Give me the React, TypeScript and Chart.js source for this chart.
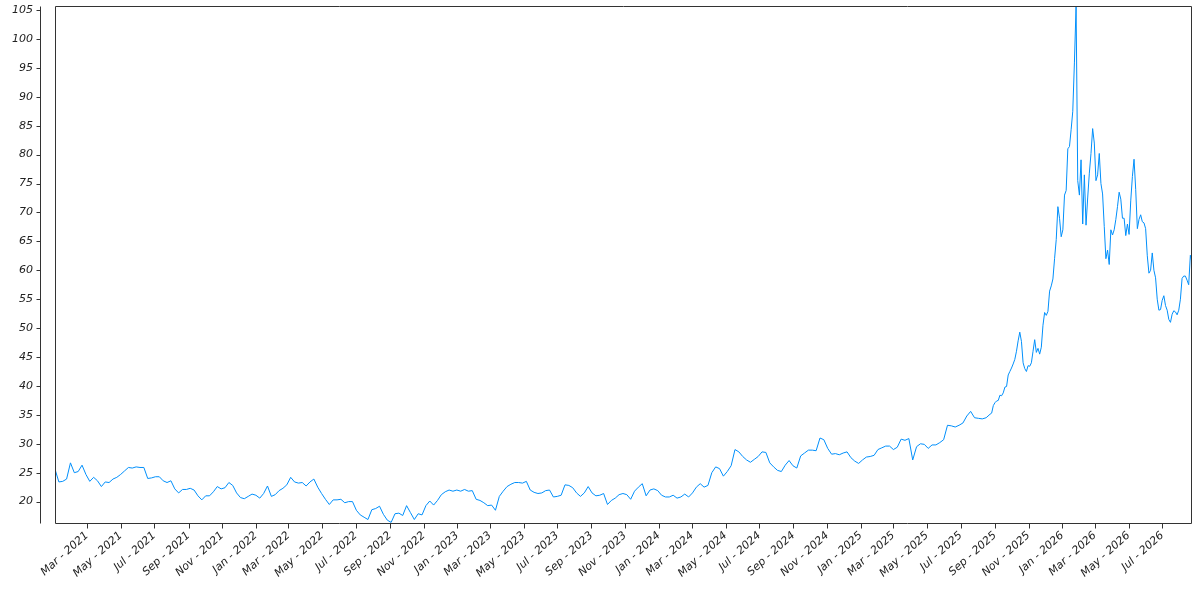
import React, { useEffect, useRef } from "react";
import { Chart, registerables } from "chart.js";

Chart.register(...registerables);

// ---------------- data ----------------
const DAY_MS = 86400000;

// weekly readings, starting 2021-01-02
const weeklyStart = "2021-01-02";
const weeklyStepDays = 7;
const weeklyValues = [
  25.6, 23.4, 23.5, 23.9, 26.7, 25.0, 25.2, 26.3, 24.7, 23.5,
  24.2, 23.6, 22.6, 23.4, 23.3, 23.9, 24.2, 24.7, 25.3, 25.9,
  25.8, 26.0, 25.9, 25.9, 24.0, 24.1, 24.3, 24.3, 23.6, 23.3,
  23.6, 22.2, 21.5, 22.1, 22.1, 22.3, 22.0, 21.0, 20.3, 21.0,
  21.0, 21.7, 22.6, 22.2, 22.4, 23.3, 22.8, 21.5, 20.7, 20.5,
  20.9, 21.3, 21.1, 20.6, 21.4, 22.7, 20.9, 21.2, 21.9, 22.3,
  22.9, 24.2, 23.4, 23.2, 23.3, 22.7, 23.4, 23.9, 22.5, 21.4,
  20.4, 19.5, 20.3, 20.3, 20.4, 19.8, 20.0, 20.0, 18.5, 17.7,
  17.3, 16.9, 18.6, 18.8, 19.2, 17.8, 16.8, 16.4, 17.9, 18.0,
  17.6, 19.3, 18.1, 16.9, 17.9, 17.7, 19.3, 20.1, 19.4, 20.2,
  21.2, 21.7, 22.0, 21.8, 22.0, 21.8, 22.1, 21.8, 21.9, 20.4,
  20.2, 19.8, 19.3, 19.4, 18.5, 20.9, 21.8, 22.6, 23.0, 23.3,
  23.3, 23.2, 23.5, 22.0, 21.6, 21.4, 21.5, 21.9, 22.0, 20.8,
  20.9, 21.1, 22.9, 22.8, 22.4, 21.5, 20.9, 21.5, 22.6, 21.5,
  21.0, 21.1, 21.4, 19.5, 20.2, 20.6, 21.2, 21.4, 21.2, 20.4,
  21.8, 22.5, 23.1, 21.0, 22.0, 22.2, 21.9, 21.1, 20.8, 20.8,
  21.1, 20.6, 20.8, 21.3, 20.8, 21.5, 22.5, 23.1, 22.5, 22.8,
  25.0, 26.0, 25.7, 24.4, 25.2, 26.2, 29.0, 28.6, 27.8, 27.2,
  26.8, 27.3, 27.8, 28.6, 28.5, 26.7, 26.0, 25.4, 25.2, 26.3,
  27.1, 26.2, 25.8, 27.9, 28.4, 28.9, 28.9, 28.8, 31.0, 30.7,
  29.2, 28.2, 28.3, 28.1, 28.4, 28.6, 27.6, 27.0, 26.6, 27.2,
  27.7, 27.8, 28.0, 29.0, 29.3, 29.6, 29.6, 29.0, 29.4, 30.8,
  30.6, 30.9, 27.2, 29.5, 30.0, 29.9, 29.2, 29.8, 29.8, 30.2,
  30.7, 33.2, 33.1, 32.9, 33.2, 33.6, 34.8, 35.6, 34.5, 34.4,
  34.3, 34.5,
];

// denser readings (every 3 days) from 2025-08-23
const tailStart = "2025-08-23";
const tailStepDays = 3;
const tailValues = [
  35.1, 35.3, 36.6, 37.1, 37.4, 37.5, 38.4, 38.3, 38.8, 39.8,
  39.9, 41.9, 42.5, 43.1, 43.8, 44.6, 46.0, 47.8, 49.3, 47.7,
  44.0, 43.0, 42.5, 43.5, 43.4, 44.0, 46.0, 48.0, 45.8, 46.5,
  45.5, 46.7, 50.5, 52.7, 52.2, 52.9, 56.4, 57.3, 58.5, 62.0,
  65.3, 71.0, 69.0, 65.8, 67.0, 73.0, 73.8, 81.0, 81.4, 84.3,
  87.5, 96.0, 105.7, 75.5, 73.0, 79.1, 68.0, 76.5, 67.8, 72.5,
  76.8, 80.2, 84.5, 82.0, 75.5, 76.5, 80.2, 75.0, 73.2, 67.6,
  62.0, 63.5, 61.0, 67.0, 66.1, 67.0, 68.8, 71.0, 73.5, 72.3,
  69.0, 69.0, 66.0, 68.0, 66.2, 72.0, 76.2, 79.2, 74.0, 67.2,
  68.8, 69.6, 68.4, 68.2, 67.2, 62.5, 59.5, 60.0, 63.0, 60.0,
  58.7, 55.0, 53.1, 53.2, 54.8, 55.6, 53.9, 53.1, 51.5, 51.0,
  52.4, 53.0, 52.8, 52.3, 53.1, 55.0, 58.6, 59.0, 59.0, 58.3,
  57.5, 62.6, 61.3,
];

const monthNames = ["Jan", "Feb", "Mar", "Apr", "May", "Jun", "Jul", "Aug", "Sep", "Oct", "Nov", "Dec"];

const xTickMonths = [
  "2021-03", "2021-05", "2021-07", "2021-09", "2021-11",
  "2022-01", "2022-03", "2022-05", "2022-07", "2022-09", "2022-11",
  "2023-01", "2023-03", "2023-05", "2023-07", "2023-09", "2023-11",
  "2024-01", "2024-03", "2024-05", "2024-07", "2024-09", "2024-11",
  "2025-01", "2025-03", "2025-05", "2025-07", "2025-09", "2025-11",
  "2026-01", "2026-03", "2026-05", "2026-07",
];

const yTickValues = [20, 25, 30, 35, 40, 45, 50, 55, 60, 65, 70, 75, 80, 85, 90, 95, 100, 105];

// ---------------- helpers ----------------
const toUTC = (iso: string) => {
  const [y, m, d] = iso.split("-").map(Number);
  return Date.UTC(y, m - 1, d || 1);
};

const LINE_COLOR = "#008FFB";
const AXIS_COLOR = "#333333";
const TEXT_COLOR = "#222222";
const FONT = { family: "'DejaVu Sans', sans-serif", size: 11, style: "italic" as const };

export default function App() {
  const ref = useRef<HTMLCanvasElement>(null);

  useEffect(() => {
    document.body.style.margin = "0";
    const w0 = toUTC(weeklyStart);
    const t0 = toUTC(tailStart);
    const points = [
      ...weeklyValues.map((v, i) => ({ x: w0 + i * weeklyStepDays * DAY_MS, y: v })),
      ...tailValues.map((v, i) => ({ x: t0 + i * tailStepDays * DAY_MS, y: v })),
    ];
    const xMin = points[0].x;
    const xMax = points[points.length - 1].x;
    const ys = points.map((p) => p.y);
    const yMin = Math.min(...ys) - 0.1;
    const yMax = Math.max(...ys);

    const frame = {
      id: "frame",
      afterDraw(chart: any) {
        const { ctx, chartArea: ca, scales } = chart;
        ctx.save();
        ctx.strokeStyle = AXIS_COLOR;
        ctx.lineWidth = 1;
        const L = Math.round(ca.left) + 0.5;
        const R = Math.round(ca.right) - 0.5;
        const T = Math.round(ca.top) + 0.5;
        const B = Math.round(ca.bottom) + 0.5;
        ctx.beginPath();
        ctx.rect(L, T, R - L, B - T);
        ctx.stroke();
        // offset y axis
        const ax = L - 15;
        ctx.beginPath();
        ctx.moveTo(ax, T);
        ctx.lineTo(ax, B);
        for (const t of scales.y.ticks) {
          const py = Math.round(scales.y.getPixelForValue(t.value)) + 0.5;
          ctx.moveTo(ax - 4, py);
          ctx.lineTo(ax, py);
        }
        for (const t of scales.x.ticks) {
          const px = Math.round(scales.x.getPixelForValue(t.value)) + 0.5;
          ctx.moveTo(px, B);
          ctx.lineTo(px, B + 5);
        }
        ctx.stroke();
        ctx.restore();
      },
    };

    const chart = new Chart(ref.current!, {
      type: "line",
      data: {
        datasets: [
          {
            data: points,
            borderColor: LINE_COLOR,
            borderWidth: 1,
            pointRadius: 0,
            fill: false,
            tension: 0,
          },
        ],
      },
      options: {
        animation: false,
        responsive: false,
        maintainAspectRatio: false,
        parsing: false as any,
        layout: { padding: { top: 6, right: 8, left: 0, bottom: 0 } },
        plugins: { legend: { display: false }, tooltip: { enabled: false } },
        scales: {
          x: {
            type: "linear",
            min: xMin,
            max: xMax,
            grid: { display: false, drawTicks: false },
            border: { display: false },
            afterBuildTicks: (s: any) => {
              s.ticks = xTickMonths.map((m) => ({ value: toUTC(m) }));
            },
            afterFit: (s: any) => {
              s.height = 77;
              s.paddingLeft = 0;
              s.paddingRight = 0;
            },
            ticks: {
              autoSkip: false,
              minRotation: 42,
              maxRotation: 42,
              padding: 6,
              color: TEXT_COLOR,
              font: FONT,
              callback: (v: any) => {
                const d = new Date(Number(v));
                return `${monthNames[d.getUTCMonth()]} - ${d.getUTCFullYear()}`;
              },
            },
          },
          y: {
            type: "linear",
            min: yMin,
            max: yMax,
            grid: { display: false, drawTicks: false },
            border: { display: false },
            afterBuildTicks: (s: any) => {
              s.ticks = yTickValues.map((v) => ({ value: v }));
            },
            afterFit: (s: any) => {
              s.width = 55;
              s.paddingTop = 0;
              s.paddingBottom = 0;
            },
            ticks: {
              padding: 22,
              color: TEXT_COLOR,
              font: FONT,
              callback: (v: any) => String(v),
            },
          },
        },
      },
      plugins: [frame],
    } as any);

    return () => chart.destroy();
  }, []);

  return (
    <div style={{ width: 1200, height: 600 }}>
      <canvas ref={ref} width={1200} height={600} style={{ display: "block" }} />
    </div>
  );
}
